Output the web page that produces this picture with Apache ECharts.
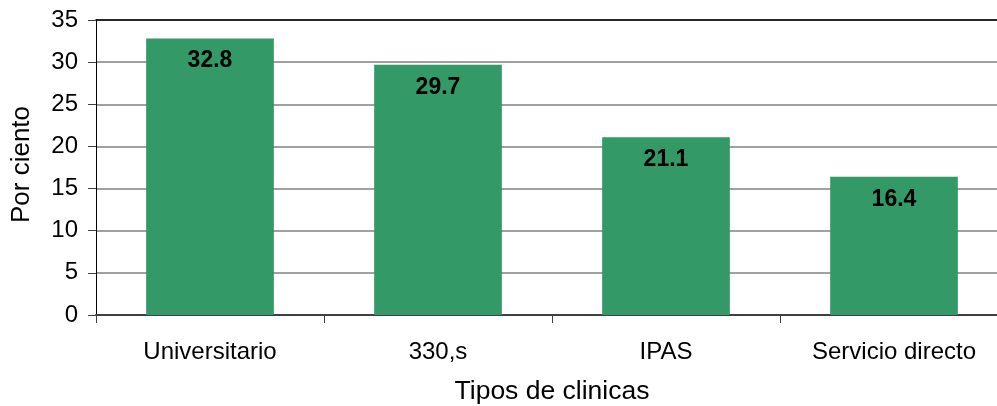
<!DOCTYPE html>
<html><head><meta charset="utf-8">
<script src="https://cdn.jsdelivr.net/npm/echarts@6/dist/echarts.min.js"></script>
<style>html,body{margin:0;padding:0;background:#fff}#c{width:997px;height:406px}</style>
</head><body><div id="c"></div>
<script>
const categories = ["Universitario", "330,s", "IPAS", "Servicio directo"];
const values = [32.8, 29.7, 21.1, 16.4];
const yTicks = [0, 5, 10, 15, 20, 25, 30, 35];

const chart = echarts.init(document.getElementById('c'));
const font = 'Liberation Sans, Arial, sans-serif';
chart.setOption({
  animation: false,
  grid: {left: 96, width: 912, top: 20, bottom: 91, containLabel: false, outerBoundsMode: 'none'},
  xAxis: [{
    type: 'category', data: categories,
    name: 'Tipos de clinicas', nameLocation: 'middle', nameGap: 63,
    nameTextStyle: {fontFamily: font, fontSize: 26.5, color: '#000'},
    axisLine: {lineStyle: {color: '#404040', width: 2}},
    axisTick: {show: true, length: 8, lineStyle: {color: '#404040'}},
    axisLabel: {fontFamily: font, fontSize: 24, color: '#000', margin: 25},
    splitLine: {show: false}
  }, {
    type: 'category', data: categories, position: 'top',
    axisLine: {lineStyle: {color: '#000', width: 1.5}},
    axisTick: {show: false}, axisLabel: {show: false}
  }],
  yAxis: {
    type: 'value', min: yTicks[0], max: yTicks[yTicks.length - 1], interval: 5,
    name: 'Por ciento', nameLocation: 'middle', nameGap: 61, nameRotate: 90,
    nameTextStyle: {fontFamily: font, fontSize: 26, color: '#000', padding: [0, 0, 0, 6]},
    axisLine: {show: true, lineStyle: {color: '#000', width: 1}},
    axisTick: {show: true, length: 8, lineStyle: {color: '#404040'}},
    axisLabel: {fontFamily: font, fontSize: 24, color: '#000', margin: 18},
    splitLine: {lineStyle: {color: '#808080', width: 1.5}}
  },
  series: [{
    type: 'bar', data: values, barWidth: '56%', itemStyle: {color: '#339966'},
    label: {show: true, position: 'insideTop', distance: 11,
      fontFamily: font, fontSize: 23, fontWeight: 'bold', color: '#000',
      formatter: p => p.value.toFixed(1)}
  }]
});
</script></body></html>
